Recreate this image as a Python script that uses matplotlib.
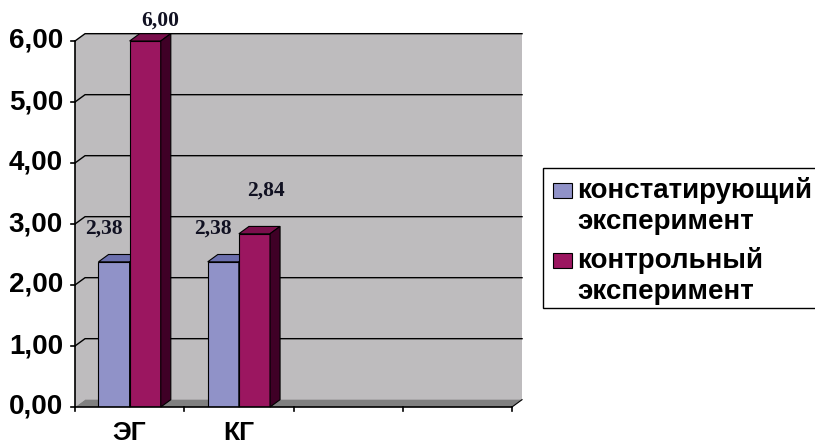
import matplotlib.pyplot as plt
from matplotlib.patches import Polygon, Rectangle

# данные диаграммы
categories = ["ЭГ", "КГ", "", ""]
series_names = ["констатирующий\nэксперимент", "контрольный\nэксперимент"]
values = [[2.38, 2.38],   # констатирующий
          [6.00, 2.84]]   # контрольный
y_ticks = [0, 1, 2, 3, 4, 5, 6]
y_labels = ["0,00", "1,00", "2,00", "3,00", "4,00", "5,00", "6,00"]
value_labels = [["2,38", "2,38"], ["6,00", "2,84"]]

front = ["#9092C8", "#9B1660"]
tops = ["#6C70AE", "#7A0F4C"]
sides = ["#4E5290", "#3F0026"]
wall = "#BEBCBE"
floor = "#808080"

W, H = 815, 447
fig = plt.figure(figsize=(W / 100, H / 100), dpi=100)
# передняя рамка: x 75..512 px, y 407..41 px
ax = fig.add_axes([75 / W, 1 - 407 / H, (512 - 75) / W, (407 - 41) / H])
ax.set_xlim(0, 4)
ax.set_ylim(0, 6)
ax.axis("off")

dx, dy = 0.092, 0.12   # глубина 3D
n = len(categories)
top = y_ticks[-1]

# стены и пол
ax.add_patch(Polygon([(dx, dy), (n + dx, dy), (n + dx, top + dy), (dx, top + dy)],
                     closed=True, fc=wall, ec="none", zorder=1, clip_on=False))
ax.add_patch(Polygon([(0, 0), (dx, dy), (dx, top + dy), (0, top)],
                     closed=True, fc=wall, ec="none", zorder=1, clip_on=False))
ax.add_patch(Polygon([(0, 0), (n, 0), (n + dx, dy), (dx, dy)],
                     closed=True, fc=floor, ec="none", zorder=2, clip_on=False))
for t in y_ticks[1:]:
    ax.plot([0, dx, n + dx], [t, t + dy, t + dy], color="black", lw=1.0,
            zorder=2, clip_on=False)
ax.plot([n, n + dx], [0, dy], color="black", lw=0.8, zorder=3, clip_on=False)

# оси
ax.plot([0, 0], [0, top], color="black", lw=1.2, zorder=6, clip_on=False)
ax.plot([0, n], [0, 0], color="black", lw=1.2, zorder=6, clip_on=False)
tick_y = 4 / 61
tick_x = 4 / 109
for t, lab in zip(y_ticks, y_labels):
    ax.plot([-tick_x, 0], [t, t], color="black", lw=1.2, clip_on=False, zorder=6)
    ax.text(-0.11, t, lab, ha="right", va="center", fontsize=20,
            fontweight="bold", family="Liberation Sans")
for i in range(n + 1):
    ax.plot([i, i], [0, -tick_y], color="black", lw=1.2, clip_on=False, zorder=6)
for i, c in enumerate(categories):
    ax.text(i + 0.5, -0.43, c, ha="center", va="center", fontsize=19,
            fontweight="bold", family="Liberation Sans")

# столбцы
bw = 0.285
label_off = [[(-10, 33), (-10, 33)], [(15, 20), (11, 43)]]
for s in range(len(values)):
    xs = [i + 0.5 + (s - 0.5) * bw for i in range(len(values[s]))]
    ax.bar(xs, values[s], width=bw, color=front[s], edgecolor="black",
           linewidth=0.8, zorder=4 + s)
    for x, v, lab, off in zip(xs, values[s], value_labels[s], label_off[s]):
        x0, x1 = x - bw / 2, x + bw / 2
        ax.add_patch(Polygon([(x0, v), (x0 + dx, v + dy), (x1 + dx, v + dy), (x1, v)],
                             closed=True, fc=tops[s], ec="black", lw=0.8,
                             zorder=4 + s, clip_on=False))
        ax.add_patch(Polygon([(x1, 0), (x1, v), (x1 + dx, v + dy), (x1 + dx, dy)],
                             closed=True, fc=sides[s], ec="black", lw=0.8,
                             zorder=4 + s, clip_on=False))
        ax.annotate(lab, (x, v), xytext=off, textcoords="offset pixels",
                    ha="center", va="center", fontsize=15.5, fontweight="bold",
                    family="Liberation Serif", color="#111122", zorder=8)

# легенда (рамка уходит за правый край)
fig.patches.append(Rectangle((543 / W, 1 - 308 / H), 300 / W, 140 / H,
                             transform=fig.transFigure, fc="white",
                             ec="black", lw=1.0, figure=fig))
base = [198, 268]
for s, name in enumerate(series_names):
    fig.patches.append(Rectangle((553 / W, 1 - base[s] / H), 19 / W, 15 / H,
                                 transform=fig.transFigure, fc=front[s],
                                 ec="black", lw=0.8, figure=fig))
    for k, line in enumerate(name.split("\n")):
        fig.text(577 / W, 1 - (base[s] + 31 * k) / H, line, ha="left",
                 va="baseline", fontsize=20, fontweight="bold",
                 family="Liberation Sans")

fig.savefig("out.png", dpi=100)
